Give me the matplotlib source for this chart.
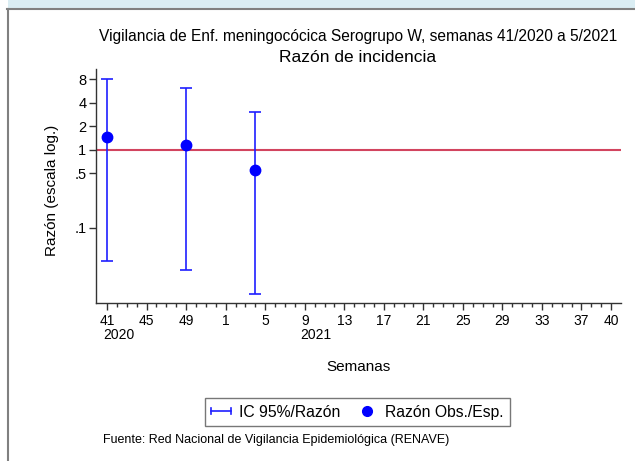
import matplotlib
matplotlib.use("Agg")
import matplotlib.pyplot as plt
from matplotlib.lines import Line2D
from matplotlib.patches import Rectangle
from matplotlib.legend_handler import HandlerBase
import numpy as np

plt.rcParams['font.family'] = ['Liberation Sans', 'DejaVu Sans']

# Week axis: weeks 41..52 of 2020 then 1..40 of 2021
weeks_2020 = list(range(41, 53))
weeks_2021 = list(range(1, 41))
week_seq = [(2020, w) for w in weeks_2020] + [(2021, w) for w in weeks_2021]
major_years = [2020, 2020, 2020, 2021, 2021, 2021, 2021, 2021, 2021, 2021, 2021, 2021, 2021, 2021]
major_labels = [41, 45, 49, 1, 5, 9, 13, 17, 21, 25, 29, 33, 37, 40]

# Data
obs_year = [2020, 2020, 2021]
obs_week = [41, 49, 4]
ratio = [1.46, 1.14, 0.545]
ci_low = [0.038, 0.029, 0.0141]
ci_high = [8.0, 6.24, 3.01]

yticks = [0.1, 0.5, 1, 2, 4, 8]
ytick_labels = ['.1', '.5', '1', '2', '4', '8']

BLUE = '#1f1fff'


def idx(year, week):
    return week_seq.index((year, week))


class CapLineHandler(HandlerBase):
    def create_artists(self, legend, orig_handle, xdescent, ydescent, width, height, fontsize, trans):
        y = height / 2 - ydescent
        x0, x1 = -xdescent, -xdescent + width
        h = height * 0.3
        arts = [Line2D([x0, x1], [y, y], color=BLUE, lw=1.2, transform=trans),
                Line2D([x0, x0], [y - h, y + h], color=BLUE, lw=1.2, transform=trans),
                Line2D([x1, x1], [y - h, y + h], color=BLUE, lw=1.2, transform=trans)]
        return arts


fig = plt.figure(figsize=(6.35, 4.61), dpi=100)

# screenshot frame decorations
fig.patches.append(Rectangle((8/635, 1 - 9/461), 1, 9/461, transform=fig.transFigure,
                             facecolor='#daedf3', edgecolor='none', zorder=0))
fig.lines.append(Line2D([7/635, 1], [1 - 9.5/461] * 2, transform=fig.transFigure,
                        color='#808080', lw=1.5))
fig.lines.append(Line2D([7.5/635] * 2, [0, 1 - 9.5/461], transform=fig.transFigure,
                        color='#808080', lw=1.5))

ax = fig.add_axes([96/635, 1 - 303/461, (621 - 96)/635, (303 - 69)/461])
ax.set_yscale('log')
ax.set_ylim(0.0109, 10.85)
ax.set_xlim(-1.12, 52.0)

x = [idx(y, w) for y, w in zip(obs_year, obs_week)]
ratio_a = np.array(ratio)
yerr = [ratio_a - np.array(ci_low), np.array(ci_high) - ratio_a]

ax.axhline(1, color='#d2445f', lw=1.5, zorder=1)
ax.errorbar(x, ratio, yerr=yerr, fmt='none', ecolor=BLUE, elinewidth=1.2,
            capsize=4.5, capthick=1.2, zorder=2)
ax.plot(x, ratio, 'o', color='#0000ff', ms=7.5, zorder=3)

for s in ['top', 'right']:
    ax.spines[s].set_visible(False)
for s in ['left', 'bottom']:
    ax.spines[s].set_color('#333333')
    ax.spines[s].set_linewidth(1.0)

ax.set_yticks(yticks)
ax.set_yticklabels(ytick_labels)
ax.yaxis.set_minor_locator(matplotlib.ticker.NullLocator())
ax.tick_params(axis='y', length=5, width=1, color='#333333', labelsize=10.5, pad=2)

major_pos = [idx(yr, w) for yr, w in zip(major_years, major_labels)]
ax.set_xticks(major_pos)
ax.set_xticklabels([str(l) for l in major_labels])
ax.set_xticks(range(len(week_seq)), minor=True)
ax.tick_params(axis='x', which='major', length=5, width=1, color='#333333', labelsize=10, pad=3)
ax.tick_params(axis='x', which='minor', length=3, width=1, color='#333333')

trans = matplotlib.transforms.blended_transform_factory(ax.transData, fig.transFigure)
ax.text(idx(2020, 41) - 0.35, 1 - 335/461, '2020', transform=trans, ha='left', va='center', fontsize=10)
ax.text(idx(2021, 9) - 0.45, 1 - 335/461, '2021', transform=trans, ha='left', va='center', fontsize=10)

fig.text(52/635, 1 - 190/461, 'Razón (escala log.)', rotation=90, ha='center', va='center', fontsize=11)
fig.text(358/635, 1 - 367/461, 'Semanas', ha='center', va='center', fontsize=11)
fig.text(358/635, 1 - 37/461, 'Vigilancia de Enf. meningocócica Serogrupo W, semanas 41/2020 a 5/2021',
         ha='center', va='center', fontsize=11.2)
fig.text(358/635, 1 - 58/461, 'Razón de incidencia', ha='center', va='center', fontsize=12.5)

h1 = Line2D([], [], color=BLUE)
h2 = Line2D([], [], color='#0000ff', marker='o', ls='none', ms=7)
leg = fig.legend([h1, h2], ['IC 95%/Razón', 'Razón Obs./Esp.'], loc='center',
                 bbox_to_anchor=(357.5/635, 1 - 412/461), ncol=2, frameon=True, fancybox=False,
                 edgecolor='#555555', fontsize=11.3, handlelength=1.3, columnspacing=1.05,
                 borderpad=0.4, handletextpad=0.5,
                 handler_map={h1: CapLineHandler()})
leg.get_frame().set_linewidth(1.0)

fig.text(103/635, 1 - 440/461, 'Fuente: Red Nacional de Vigilancia Epidemiológica (RENAVE)',
         ha='left', va='center', fontsize=9)

fig.savefig('out.png', dpi=100)
